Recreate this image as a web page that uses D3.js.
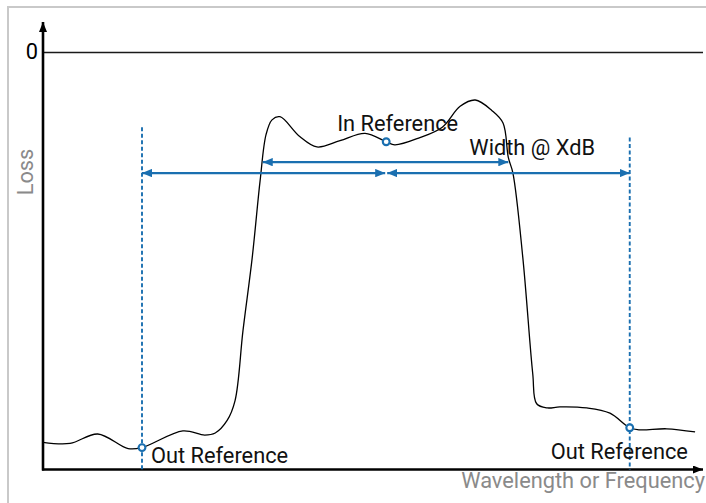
<!DOCTYPE html>
<html>
<head>
<meta charset="utf-8">
<script src="https://cdn.jsdelivr.net/npm/d3@7"></script>
<style>
  html, body { margin: 0; padding: 0; background: #fff; }
  svg { display: block; font-family: Roboto, "Noto Sans", sans-serif; }
</style>
</head>
<body>
<svg id="chart" width="706" height="503"></svg>
<script>
// Filter transmission trace: relative wavelength (0–100) vs. loss (dB)
const wavelength = [0, 4.1, 8.3, 12.9, 15.0, 21.2, 24.5, 26.1, 27.9, 29.1, 30.3, 31.7, 32.9, 33.8, 34.7,
  35.9, 38.9, 41.5, 45.0, 48.8, 52.0, 53.3, 57.1, 60.5, 63.2, 65.5, 68.0, 69.7, 70.5, 71.2, 72.7,
  74.2, 74.8, 76.4, 78.3, 82.4, 85.9, 88.9, 90.4, 94.5, 98.8];
const loss = [-37.4, -37.5, -36.6, -38.0, -37.9, -36.3, -36.7, -36.5, -35.3, -33.4, -26.7, -19.7, -12.3, -7.9, -6.5,
  -6.2, -8.1, -9.1, -8.5, -7.8, -8.6, -8.9, -8.2, -7.2, -5.2, -4.6, -5.6, -6.8, -10.1, -11.6, -19.7,
  -30.8, -33.7, -34.1, -34.0, -34.1, -34.6, -36.0, -36.2, -36.1, -36.4];

// Reference points on the trace
const refWavelength = [15.0, 52.0, 88.9];
const refLoss = [-37.9, -8.6, -36.0];
const refLabels = ["Out Reference", "In Reference", "Out Reference"];

// Out-reference guide lines (top of each dashed line, dB)
const guideWavelength = [15.0, 88.9];
const guideTop = [-7.2, -8.2];

// Bandwidth annotations
const widthLabel = "Width @ XdB";
const widthLevel = -10.55;
const widthEdges = [33.3, 70.5];
const spanLevel = -11.6;

const yTicks = [0];
const yTickLabels = ["0"];
const xTitle = "Wavelength or Frequency";
const yTitle = "Loss";

const blue = "#1a6fb0";
const fontSize = 21.8;
const svg = d3.select("#chart");

// frame
svg.append("rect").attr("x", 8).attr("y", 7).attr("width", 720).attr("height", 520)
  .attr("fill", "none").attr("stroke", "#c9c9c9").attr("stroke-width", 2);

const x = d3.scaleLinear().domain([0, 100]).range([43, 703]);
const y = d3.scaleLinear().domain([-40, 0]).range([469.5, 52]);

const defs = svg.append("defs");
function arrowMarker(id, color, len, half) {
  defs.append("marker").attr("id", id)
    .attr("markerUnits", "userSpaceOnUse")
    .attr("viewBox", `0 ${-half} ${len} ${2 * half}`)
    .attr("refX", len).attr("refY", 0)
    .attr("markerWidth", len).attr("markerHeight", 2 * half)
    .attr("orient", "auto-start-reverse")
    .append("path").attr("d", `M0,${-half}L${len},0L0,${half}Z`).attr("fill", color);
}
arrowMarker("axisArrow", "#000", 10, 4);
arrowMarker("blueArrow", blue, 10, 4.2);

// zero-loss line via the y axis
const yAxis = d3.axisLeft(y).tickValues(yTicks).tickFormat((d, i) => yTickLabels[i])
  .tickSize(-(x.range()[1] - x.range()[0])).tickPadding(5);
const gy = svg.append("g").attr("transform", `translate(${x.range()[0]},0)`).call(yAxis);
gy.select(".domain").remove();
gy.selectAll(".tick line").attr("stroke", "#1a1a1a").attr("stroke-width", 1.4);
gy.selectAll(".tick text").attr("font-size", fontSize).attr("font-family", "Roboto").attr("fill", "#000");

// axes with arrowheads
svg.append("line").attr("x1", x.range()[0]).attr("x2", x.range()[0])
  .attr("y1", y.range()[0] + 1).attr("y2", 22)
  .attr("stroke", "#000").attr("stroke-width", 2.6).attr("marker-end", "url(#axisArrow)");
svg.append("line").attr("x1", x.range()[0] - 1).attr("x2", x.range()[1])
  .attr("y1", y.range()[0]).attr("y2", y.range()[0])
  .attr("stroke", "#000").attr("stroke-width", 2.6).attr("marker-end", "url(#axisArrow)");

// axis titles
svg.append("text").attr("transform", `translate(33,${172})rotate(-90)`)
  .attr("text-anchor", "middle").attr("font-size", fontSize).attr("fill", "#8a8a8a").text(yTitle);
svg.append("text").attr("x", 705).attr("y", 488).attr("text-anchor", "end")
  .attr("font-size", fontSize).attr("fill", "#8a8a8a").text(xTitle);

// dashed out-reference guides
svg.selectAll(".guide").data(guideWavelength).join("line").attr("class", "guide")
  .attr("x1", d => x(d)).attr("x2", d => x(d))
  .attr("y1", (d, i) => y(guideTop[i])).attr("y2", y.range()[0])
  .attr("stroke", blue).attr("stroke-width", 1.9).attr("stroke-dasharray", "4,2.5");

// trace
const line = d3.line().x(d => x(d[0])).y(d => y(d[1])).curve(d3.curveCatmullRom.alpha(0.5));
svg.append("path").datum(wavelength.map((w, i) => [w, loss[i]]))
  .attr("d", line).attr("fill", "none").attr("stroke", "#000").attr("stroke-width", 1.3);

// span arrows from the in-reference to each out-reference
const spans = [[refWavelength[1], refWavelength[0]], [refWavelength[1], refWavelength[2]]];
svg.selectAll(".span").data(spans).join("line").attr("class", "span")
  .attr("x1", d => x(d[0]) + (d[1] > d[0] ? 1 : -1)).attr("x2", d => x(d[1]))
  .attr("y1", y(spanLevel)).attr("y2", y(spanLevel))
  .attr("stroke", blue).attr("stroke-width", 2.4)
  .attr("marker-start", "url(#blueArrow)").attr("marker-end", "url(#blueArrow)");

// width arrow
svg.append("line").attr("x1", x(widthEdges[0])).attr("x2", x(widthEdges[1]))
  .attr("y1", y(widthLevel)).attr("y2", y(widthLevel))
  .attr("stroke", blue).attr("stroke-width", 2.4)
  .attr("marker-start", "url(#blueArrow)").attr("marker-end", "url(#blueArrow)");
svg.append("text").attr("x", x(widthEdges[1]) - 39).attr("y", 155)
  .attr("font-size", fontSize).attr("fill", "#111").text(widthLabel);

// reference markers and labels
const labelOffsets = [[9, 15], [-49, -11], [-79, 31]];
svg.selectAll(".refLabel").data(refLabels).join("text").attr("class", "refLabel")
  .attr("x", (d, i) => x(refWavelength[i]) + labelOffsets[i][0])
  .attr("y", (d, i) => y(refLoss[i]) + labelOffsets[i][1])
  .attr("font-size", fontSize).attr("fill", "#111").text(d => d);
svg.selectAll(".ref").data(refWavelength).join("circle").attr("class", "ref")
  .attr("cx", d => x(d)).attr("cy", (d, i) => y(refLoss[i])).attr("r", 3.4)
  .attr("fill", "#fff").attr("stroke", blue).attr("stroke-width", 2.1);
</script>
</body>
</html>
